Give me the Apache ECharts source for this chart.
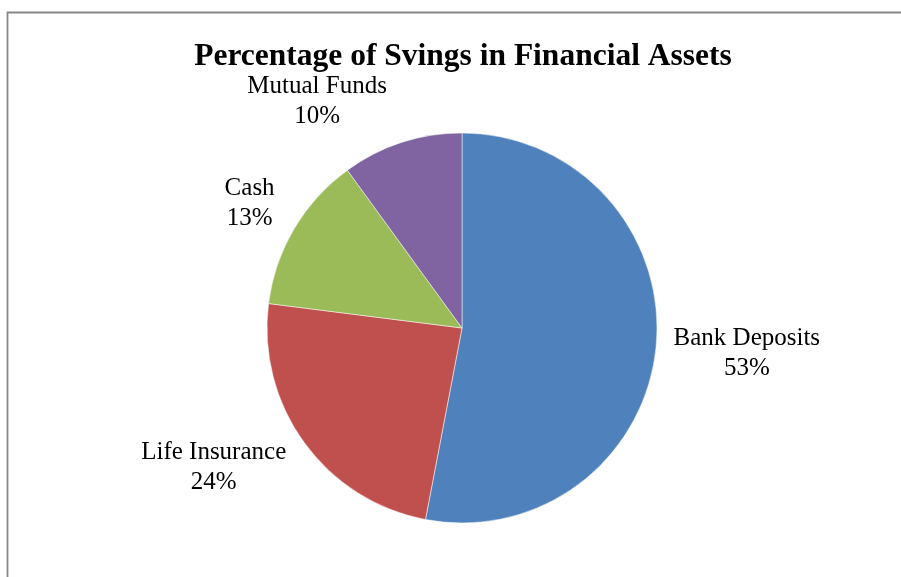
<!DOCTYPE html>
<html>
<head>
<meta charset="utf-8">
<script src="https://cdn.jsdelivr.net/npm/echarts@6/dist/echarts.min.js"></script>
<style>html,body{margin:0;padding:0;background:#fff}#c{width:901px;height:577px}</style>
</head>
<body>
<div id="c"></div>
<script>
const categories = ['Bank Deposits', 'Life Insurance', 'Cash', 'Mutual Funds'];
const values = [53, 24, 13, 10];
const colors = ['#4F81BD', '#C0504D', '#9BBB59', '#8064A2'];
const titleText = 'Percentage of Svings in Financial Assets';

const CX = 462, CY = 328, R = 195;
// label placement (angle in degrees clockwise from top, distance from centre)
const labelAngle = [95.2, 240.6, 300.3, 327.4];
const labelDist = [286, 285, 246, 269];

const chart = echarts.init(document.getElementById('c'), null, {renderer: 'canvas'});
chart.setOption({
  animation: false,
  backgroundColor: '#fff',
  title: {
    text: titleText,
    left: 458, top: 36, textAlign: 'center',
    textStyle: {fontFamily: 'Liberation Serif', fontWeight: 'bold', fontSize: 31.5, color: '#000'}
  },
  graphic: [{
    type: 'rect', silent: true, z: -1,
    shape: {x: 7.5, y: 12.5, width: 1000, height: 1000},
    style: {fill: 'none', stroke: '#878787', lineWidth: 1.8}
  }],
  series: [{
    type: 'pie',
    center: [CX, CY],
    radius: R,
    startAngle: 90,
    clockwise: true,
    avoidLabelOverlap: false,
    itemStyle: {borderColor: '#fff', borderWidth: 0.5},
    label: {
      show: true, position: 'outside',
      formatter: p => p.name + '\n' + p.value + '%',
      fontFamily: 'Liberation Serif', fontSize: 25, lineHeight: 30, color: '#000',
      align: 'center'
    },
    labelLine: {show: false},
    labelLayout: function (p) {
      const i = p.dataIndex;
      const a = labelAngle[i] * Math.PI / 180;
      return {
        x: CX + labelDist[i] * Math.sin(a),
        y: CY - labelDist[i] * Math.cos(a),
        align: 'center', verticalAlign: 'middle'
      };
    },
    data: categories.map((c, i) => ({name: c, value: values[i], itemStyle: {color: colors[i]}}))
  }]
});
</script>
</body>
</html>
